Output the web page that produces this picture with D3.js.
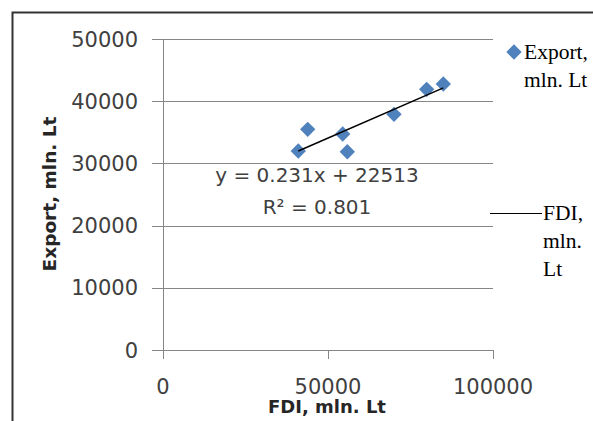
<!DOCTYPE html>
<html>
<head>
<meta charset="utf-8">
<script src="https://cdn.jsdelivr.net/npm/d3@7"></script>
<style>
  body { margin: 0; background: #fff; }
</style>
</head>
<body>
<script>
// data
const fdi = [41000, 43850, 54450, 55850, 70000, 79900, 84940];
const exportVals = [31990, 35480, 34730, 31880, 37890, 41910, 42770];
const xTicks = [0, 50000, 100000];
const yTicks = [0, 10000, 20000, 30000, 40000, 50000];
const slope = 0.231;
const intercept = 22513;
const eqLines = ["y = 0.231x + 22513", "R² = 0.801"];

const width = 593;
const height = 421;
const blue = "#4f81bd";
const grid = "#868686";

const svg = d3.select("body")
  .append("svg")
  .attr("width", width)
  .attr("height", height);

// outer frame (runs off the right and bottom edge)
svg.append("path")
  .attr("d", "M12.5,430 V12.5 H600")
  .attr("fill", "none")
  .attr("stroke", "#333")
  .attr("stroke-width", 2);

const x = d3.scaleLinear().domain([0, 100000]).range([163, 493]);
const y = d3.scaleLinear().domain([0, 50000]).range([350, 39]);

// gridlines + y ticks
svg.append("g")
  .selectAll("line")
  .data(yTicks)
  .enter()
  .append("line")
  .attr("x1", 152)
  .attr("x2", x(100000))
  .attr("y1", (d) => Math.round(y(d)) + 0.5)
  .attr("y2", (d) => Math.round(y(d)) + 0.5)
  .attr("stroke", grid)
  .attr("stroke-width", 1);

// y axis line
svg.append("line")
  .attr("x1", x(0) + 0.5)
  .attr("x2", x(0) + 0.5)
  .attr("y1", y(50000))
  .attr("y2", y(0))
  .attr("stroke", grid);

// x ticks
svg.append("g")
  .selectAll("line")
  .data(xTicks)
  .enter()
  .append("line")
  .attr("x1", (d) => Math.round(x(d)) + 0.5)
  .attr("x2", (d) => Math.round(x(d)) + 0.5)
  .attr("y1", y(0))
  .attr("y2", y(0) + 9)
  .attr("stroke", grid);

// tick labels
svg.append("g")
  .selectAll("text")
  .data(yTicks)
  .enter()
  .append("text")
  .attr("x", 138)
  .attr("y", (d) => y(d))
  .attr("dy", "0.36em")
  .attr("text-anchor", "end")
  .attr("font-family", "DejaVu Sans")
  .attr("font-size", 21)
  .attr("fill", "#404040")
  .text((d) => d);

svg.append("g")
  .selectAll("text")
  .data(xTicks)
  .enter()
  .append("text")
  .attr("x", (d) => x(d))
  .attr("y", 386)
  .attr("dy", "0.36em")
  .attr("text-anchor", "middle")
  .attr("font-family", "DejaVu Sans")
  .attr("font-size", 21)
  .attr("fill", "#404040")
  .text((d) => d);

// axis titles
svg.append("text")
  .attr("x", 327)
  .attr("y", 407)
  .attr("dy", "0.36em")
  .attr("text-anchor", "middle")
  .attr("font-family", "DejaVu Sans")
  .attr("font-weight", "bold")
  .attr("font-size", 18)
  .attr("fill", "#262626")
  .text("FDI, mln. Lt");

svg.append("text")
  .attr("transform", "translate(49,194) rotate(-90)")
  .attr("dy", "0.36em")
  .attr("text-anchor", "middle")
  .attr("font-family", "DejaVu Sans")
  .attr("font-weight", "bold")
  .attr("font-size", 18.5)
  .attr("fill", "#262626")
  .text("Export, mln. Lt");

// points
const diamond = d3.symbol().type(d3.symbolDiamond2).size(150);
const pts = fdi.map((v, i) => [v, exportVals[i]]);
svg.append("g")
  .selectAll("path")
  .data(pts)
  .enter()
  .append("path")
  .attr("d", diamond)
  .attr("transform", (d) => `translate(${x(d[0])},${y(d[1])})`)
  .attr("fill", blue);

// trend line
const x0 = d3.min(fdi);
const x1 = d3.max(fdi);
svg.append("line")
  .attr("x1", x(x0))
  .attr("y1", y(slope * x0 + intercept))
  .attr("x2", x(x1))
  .attr("y2", y(slope * x1 + intercept))
  .attr("stroke", "#000")
  .attr("stroke-width", 1.5);

// trendline label
svg.append("g")
  .selectAll("text")
  .data(eqLines)
  .enter()
  .append("text")
  .attr("x", 317)
  .attr("y", (d, i) => 175 + i * 32)
  .attr("dy", "0.36em")
  .attr("text-anchor", "middle")
  .attr("font-family", "DejaVu Sans")
  .attr("font-size", 20)
  .attr("fill", "#404040")
  .text((d) => d);

// legend
const lg = svg.append("g")
  .attr("font-family", "Liberation Serif")
  .attr("font-size", 21.5)
  .attr("fill", "#000");

lg.append("path")
  .attr("d", diamond)
  .attr("transform", "translate(514,52)")
  .attr("fill", blue);

["Export,", "mln. Lt"].forEach((t, i) => {
  lg.append("text")
    .attr("x", 524)
    .attr("y", 52 + i * 28)
    .attr("dy", "0.33em")
    .text(t);
});

lg.append("line")
  .attr("x1", 490)
  .attr("x2", 542)
  .attr("y1", 213.5)
  .attr("y2", 213.5)
  .attr("stroke", "#000")
  .attr("stroke-width", 1.2);

["FDI,", "mln.", "Lt"].forEach((t, i) => {
  lg.append("text")
    .attr("x", 543)
    .attr("y", 213 + i * 28)
    .attr("dy", "0.33em")
    .text(t);
});
</script>
</body>
</html>
